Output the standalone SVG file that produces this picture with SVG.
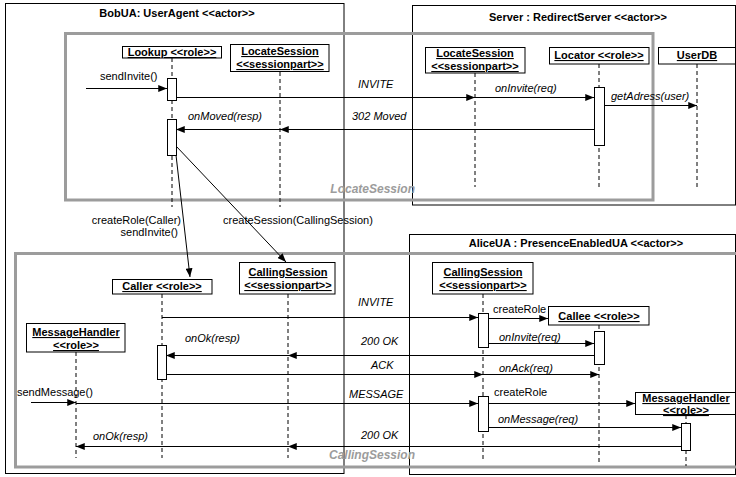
<svg xmlns="http://www.w3.org/2000/svg" width="736" height="477" viewBox="0 0 736 477">
<defs>
<marker id="a" viewBox="0 0 10 8" refX="10" refY="4" markerWidth="9" markerHeight="7" markerUnits="userSpaceOnUse" orient="auto">
<path d="M0,0 L10,4 L0,8 Z" fill="#000"/>
</marker>
</defs>
<style>
.actor{fill:none;stroke:#000;stroke-width:1}
.frame{fill:none;stroke:#9c9c9c;stroke-width:3}
.box{fill:#fff;stroke:#000;stroke-width:1}
.act{fill:#fff;stroke:#000;stroke-width:1}
.ll{stroke:#000;stroke-width:1;stroke-dasharray:4 3;fill:none}
.msg{stroke:#000;stroke-width:1;fill:none;marker-end:url(#a)}
.t{font-family:"Liberation Sans",Arial,Helvetica,sans-serif;font-size:11px;fill:#000}
.b{font-weight:bold}
.u{text-decoration:underline}
.i{font-style:italic}
.c{text-anchor:middle}
.e{text-anchor:end}
.g{font-family:"Liberation Sans",Arial,Helvetica,sans-serif;font-size:12px;font-weight:bold;font-style:italic;fill:#9c9c9c;text-anchor:end}
</style>

<g id="actors">
<g id="bobua">
<rect class="actor" x="5.5" y="3.5" width="338.5" height="470"/>
<text class="t b c" x="177" y="17">BobUA: UserAgent &lt;&lt;actor&gt;&gt;</text>
</g>
<g id="server">
<rect class="actor" x="412.5" y="5.5" width="323" height="199.5"/>
<text class="t b c" x="578" y="21">Server : RedirectServer &lt;&lt;actor&gt;&gt;</text>
</g>
<g id="aliceua">
<rect class="actor" x="409.5" y="234.5" width="326" height="240"/>
<text class="t b c" x="576" y="247">AliceUA : PresenceEnabledUA &lt;&lt;actor&gt;&gt;</text>
</g>
</g>

<g id="sessions">
<g id="locatesession-frame">
<rect class="frame" x="65.5" y="33.5" width="587.5" height="166.5"/>
<text class="g" x="415" y="193">LocateSession</text>
</g>
<g id="callingsession-frame">
<rect class="frame" x="15.5" y="253.5" width="725" height="213.5"/>
<text class="g" x="415" y="459">CallingSession</text>
</g>
</g>

<g id="lifelines">
<line class="ll" x1="172" y1="58" x2="172" y2="207"/>
<line class="ll" x1="280" y1="72" x2="280" y2="207"/>
<line class="ll" x1="475" y1="73" x2="475" y2="187"/>
<line class="ll" x1="599" y1="64" x2="599" y2="187"/>
<line class="ll" x1="697" y1="64" x2="697" y2="187"/>
<line class="ll" x1="162" y1="294" x2="162" y2="458"/>
<line class="ll" x1="288" y1="294" x2="288" y2="458"/>
<line class="ll" x1="76" y1="352" x2="76" y2="458"/>
<line class="ll" x1="483" y1="294" x2="483" y2="462"/>
<line class="ll" x1="599" y1="325" x2="599" y2="462"/>
<line class="ll" x1="686" y1="415" x2="686" y2="466"/>
</g>

<g id="lookup">
<rect class="box" x="122.5" y="46.5" width="99" height="11.5"/>
<text class="t b u c" x="172" y="56">Lookup &lt;&lt;role&gt;&gt;</text>
</g>
<g id="locatesession-bob">
<rect class="box" x="230.5" y="44.5" width="98.5" height="27"/>
<text class="t b u c" x="280" y="55">LocateSession</text>
<text class="t b u c" x="280" y="68">&lt;&lt;sessionpart&gt;&gt;</text>
</g>
<g id="locatesession-server">
<rect class="box" x="425.5" y="47.5" width="99.5" height="25.5"/>
<text class="t b u c" x="475" y="57">LocateSession</text>
<text class="t b u c" x="475" y="70">&lt;&lt;sessionpart&gt;&gt;</text>
</g>
<g id="locator">
<rect class="box" x="549.5" y="47.5" width="99.5" height="16.5"/>
<text class="t b u c" x="599" y="59">Locator &lt;&lt;role&gt;&gt;</text>
</g>
<g id="userdb">
<rect class="box" x="658.5" y="47.5" width="77" height="16.5"/>
<text class="t b u c" x="697" y="59">UserDB</text>
</g>
<g id="caller">
<rect class="box" x="112.5" y="279.5" width="99.5" height="14.5"/>
<text class="t b u c" x="162" y="290">Caller &lt;&lt;role&gt;&gt;</text>
</g>
<g id="callingsession-bob">
<rect class="box" x="239.5" y="262.5" width="95.5" height="31.5"/>
<text class="t b u c" x="288" y="276">CallingSession</text>
<text class="t b u c" x="288" y="289">&lt;&lt;sessionpart&gt;&gt;</text>
</g>
<g id="messagehandler-bob">
<rect class="box" x="26.5" y="323.5" width="98.5" height="28.5"/>
<text class="t b u c" x="76" y="336">MessageHandler</text>
<text class="t b u c" x="76" y="349">&lt;&lt;role&gt;&gt;</text>
</g>
<g id="callingsession-alice">
<rect class="box" x="432.5" y="262.5" width="100.5" height="31.5"/>
<text class="t b u c" x="483" y="276">CallingSession</text>
<text class="t b u c" x="483" y="289">&lt;&lt;sessionpart&gt;&gt;</text>
</g>
<g id="callee">
<rect class="box" x="548.5" y="306.5" width="100.5" height="18.5"/>
<text class="t b u c" x="599" y="320">Callee &lt;&lt;role&gt;&gt;</text>
</g>
<g id="messagehandler-alice">
<rect class="box" x="635.5" y="392.5" width="100" height="22"/>
<text class="t b u c" x="686" y="402">MessageHandler</text>
<text class="t b u c" x="686" y="414">&lt;&lt;role&gt;&gt;</text>
</g>

<g id="connectors">
<line class="msg" x1="86" y1="88.5" x2="167" y2="88.5"/>
<line class="msg" x1="176" y1="97.5" x2="475" y2="97.5"/>
<line class="msg" x1="475" y1="97.5" x2="594" y2="97.5"/>
<line class="msg" x1="604" y1="105.5" x2="697" y2="105.5"/>
<line class="msg" x1="594" y1="129.5" x2="280" y2="129.5"/>
<line class="msg" x1="280" y1="129.5" x2="176" y2="129.5"/>
<line class="msg" x1="176" y1="155" x2="190" y2="277"/>
<line class="msg" x1="176" y1="146" x2="286" y2="262"/>
<line class="msg" x1="162" y1="317.5" x2="478" y2="317.5"/>
<line class="msg" x1="488" y1="318.5" x2="548" y2="318.5"/>
<line class="msg" x1="488" y1="343.5" x2="594" y2="343.5"/>
<line class="msg" x1="594" y1="355.5" x2="288" y2="355.5"/>
<line class="msg" x1="288" y1="355.5" x2="166" y2="355.5"/>
<line class="msg" x1="166" y1="374.5" x2="483" y2="374.5"/>
<line class="msg" x1="483" y1="374.5" x2="599" y2="374.5"/>
<line class="msg" x1="31" y1="402.5" x2="76" y2="402.5"/>
<line class="msg" x1="76" y1="403.5" x2="478" y2="403.5"/>
<line class="msg" x1="488" y1="403.5" x2="635" y2="403.5"/>
<line class="msg" x1="488" y1="427.5" x2="681" y2="427.5"/>
<line class="msg" x1="681" y1="446.5" x2="288" y2="446.5"/>
<line class="msg" x1="288" y1="446.5" x2="76" y2="446.5"/>
</g>

<g id="activations">
<rect class="act" x="167.5" y="78.5" width="9" height="22"/>
<rect class="act" x="167.5" y="119.5" width="9" height="36"/>
<rect class="act" x="594.5" y="87.5" width="10" height="58"/>
<rect class="act" x="157.5" y="345.5" width="9" height="34"/>
<rect class="act" x="478.5" y="313.5" width="10" height="34"/>
<rect class="act" x="594.5" y="331.5" width="10" height="33"/>
<rect class="act" x="478.5" y="396.5" width="10" height="35"/>
<rect class="act" x="681.5" y="423.5" width="9" height="27"/>
</g>

<g id="labels">
<text class="t" x="100" y="80">sendInvite()</text>
<text class="t i" x="358" y="88">INVITE</text>
<text class="t i" x="495" y="92">onInvite(req)</text>
<text class="t i" x="611" y="100">getAdress(user)</text>
<text class="t i" x="352" y="120">302 Moved</text>
<text class="t i" x="188" y="120">onMoved(resp)</text>
<text class="t e" x="181" y="224">createRole(Caller)</text>
<text class="t e" x="178" y="236">sendInvite()</text>
<text class="t" x="223" y="224">createSession(CallingSession)</text>
<text class="t i" x="358" y="306">INVITE</text>
<text class="t" x="493" y="313">createRole</text>
<text class="t i" x="499" y="341">onInvite(req)</text>
<text class="t i" x="361" y="345">200 OK</text>
<text class="t i" x="185" y="342">onOk(resp)</text>
<text class="t i" x="371" y="369">ACK</text>
<text class="t i" x="499" y="372">onAck(req)</text>
<text class="t" x="17" y="396">sendMessage()</text>
<text class="t i" x="349" y="398">MESSAGE</text>
<text class="t" x="494" y="396">createRole</text>
<text class="t i" x="498" y="423">onMessage(req)</text>
<text class="t i" x="361" y="439">200 OK</text>
<text class="t i" x="93" y="440">onOk(resp)</text>
</g>
</svg>
